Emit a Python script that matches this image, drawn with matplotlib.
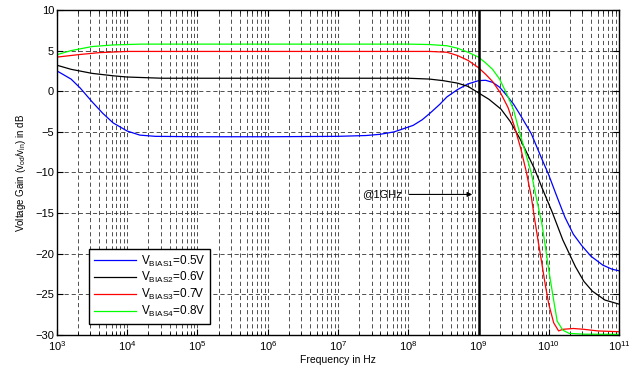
import numpy as np
import matplotlib
matplotlib.use("Agg")
import matplotlib.pyplot as plt
from matplotlib.ticker import LogLocator, NullFormatter

plt.rcParams['font.family'] = ['Liberation Sans', 'DejaVu Sans']
plt.rcParams['mathtext.fontset'] = 'custom'
plt.rcParams['mathtext.rm'] = 'Liberation Sans'
plt.rcParams['mathtext.it'] = 'Liberation Sans'

# ---- data (log10 of frequency in Hz, gain in dB) ----
blue_logf = [3.0, 3.2, 3.33, 3.5, 3.65, 3.8, 4.0, 4.18, 4.4, 5.0, 6.0, 7.0, 7.4, 7.6, 7.8, 8.07, 8.2, 8.31,
             8.45, 8.55, 8.7, 8.85, 9.0, 9.1, 9.2, 9.3, 9.4, 9.5, 9.6, 9.75, 9.9, 10.0, 10.1, 10.23, 10.35,
             10.47, 10.6, 10.77, 10.9, 11.0]
blue_db = [2.5, 1.5, 0.4, -1.3, -2.7, -3.9, -4.9, -5.4, -5.55, -5.6, -5.6, -5.55, -5.45, -5.3, -5.0, -4.2, -3.5,
           -2.7, -1.6, -0.7, 0.2, 0.9, 1.3, 1.35, 1.1, 0.5, -0.5, -1.6, -3.0, -5.2, -8.3, -10.3, -12.6, -15.5,
           -17.6, -19.0, -20.3, -21.4, -21.9, -22.1]

black_logf = [3.0, 3.2, 3.5, 3.8, 4.0, 4.5, 5.0, 6.0, 7.0, 8.0, 8.3, 8.5, 8.7, 8.85, 9.0, 9.15, 9.32, 9.45, 9.6,
              9.7, 9.8, 9.9, 10.05, 10.2, 10.38, 10.5, 10.62, 10.8, 11.0]
black_db = [3.2, 2.7, 2.2, 1.9, 1.75, 1.6, 1.6, 1.6, 1.6, 1.6, 1.5, 1.3, 1.0, 0.6, -0.2, -1.0, -2.2, -3.7, -6.0,
            -7.8, -9.6, -11.8, -14.9, -18.3, -21.6, -23.4, -24.6, -25.7, -26.2]

red_logf = [3.0, 3.3, 3.6, 4.0, 5.0, 6.0, 7.0, 8.0, 8.3, 8.55, 8.7, 8.85, 9.0, 9.1, 9.2, 9.32, 9.42, 9.51, 9.6,
            9.68, 9.75, 9.8, 9.85, 9.9, 9.95, 10.0, 10.07, 10.14, 10.2, 10.35, 10.5, 10.7, 11.0]
red_db = [4.2, 4.5, 4.75, 4.9, 4.9, 4.9, 4.9, 4.9, 4.9, 4.8, 4.4, 3.8, 2.9, 2.1, 1.2, -0.3, -2.0, -4.3, -7.0,
          -9.9, -12.9, -15.8, -18.5, -21.1, -23.8, -26.2, -28.5, -29.5, -29.3, -29.2, -29.3, -29.5, -29.6]

green_logf = [3.0, 3.2, 3.5, 3.8, 4.2, 5.0, 6.0, 7.0, 8.0, 8.3, 8.55, 8.7, 8.85, 9.0, 9.1, 9.2, 9.3, 9.4, 9.5,
              9.56, 9.65, 9.75, 9.82, 9.9, 9.95, 10.0, 10.06, 10.12, 10.2, 10.29, 10.5, 11.0]
green_db = [4.5, 5.0, 5.5, 5.7, 5.8, 5.8, 5.8, 5.8, 5.8, 5.75, 5.6, 5.3, 4.8, 4.2, 3.5, 2.7, 1.5, -0.3, -2.3,
            -4.3, -7.0, -10.0, -13.0, -16.2, -19.0, -22.0, -25.2, -28.3, -29.4, -29.8, -29.9, -29.92]

series_labels = [r'V$_{\mathrm{BIAS1}}$=0.5V', r'V$_{\mathrm{BIAS2}}$=0.6V',
                 r'V$_{\mathrm{BIAS3}}$=0.7V', r'V$_{\mathrm{BIAS4}}$=0.8V']
series_colors = ['#0000ff', '#000000', '#ff0000', '#00ff00']

y_ticks = [-30, -25, -20, -15, -10, -5, 0, 5, 10]
x_tick_exps = [3, 4, 5, 6, 7, 8, 9, 10, 11]

marker_freq = 1e9
annot_text = '@1GHz'

fig = plt.figure(figsize=(6.31, 3.66), dpi=100)
ax = fig.add_axes([0.0903, 0.0847, 0.8907, 0.888])

series = [(blue_logf, blue_db), (black_logf, black_db), (red_logf, red_db), (green_logf, green_db)]
for (lf, db), lab, col in zip(series, series_labels, series_colors):
    ax.plot(10 ** np.array(lf), db, color=col, lw=0.9, label=lab)

ax.set_xscale('log')
ax.set_xlim(1e3, 1e11)
ax.set_ylim(-30, 10)
ax.set_yticks(y_ticks)
ax.set_xticks([10.0 ** e for e in x_tick_exps])
ax.set_xticklabels([r'10$^{%d}$' % e for e in x_tick_exps])
ax.xaxis.set_minor_locator(LogLocator(base=10, subs=np.arange(2, 10), numticks=20))
ax.xaxis.set_minor_formatter(NullFormatter())

ax.grid(True, which='major', axis='both', color='#333333', lw=0.6, linestyle=(0, (5, 3.5)))
ax.grid(True, which='minor', axis='x', color='#333333', lw=0.6, linestyle=(0, (5, 3.5)))
ax.tick_params(which='both', direction='in', top=True, right=True, labelsize=8)
ax.tick_params(axis='x', pad=3)
ax.tick_params(axis='y', pad=2)
ax.tick_params(which='major', length=4)
ax.tick_params(which='minor', length=2)
for s in ax.spines.values():
    s.set_linewidth(1.0)

ax.axvline(marker_freq, color='black', lw=1.8)

ax.annotate('', xy=(10 ** 8.95, -12.7), xytext=(10 ** 7.97, -12.7),
            arrowprops=dict(arrowstyle='-|>', color='black', lw=0.8, mutation_scale=7))
ax.text(10 ** 7.35, -12.7, annot_text, fontsize=8, va='center', ha='left')

ax.set_xlabel('Frequency in Hz', fontsize=7.5)
ax.xaxis.set_label_coords(0.5, -0.062)
ax.set_ylabel(r'Voltage Gain (v$_{\mathrm{od}}$/v$_{\mathrm{in}}$) in dB', fontsize=7, labelpad=5)

leg = ax.legend(loc='lower left', bbox_to_anchor=(0.057, 0.034), borderaxespad=0,
                fontsize=8.5, handlelength=3.6, handletextpad=0.4, labelspacing=0.15,
                fancybox=False, framealpha=1, edgecolor='black', borderpad=0.4)
leg.get_frame().set_linewidth(1.0)

fig.savefig('out.png', dpi=100)
